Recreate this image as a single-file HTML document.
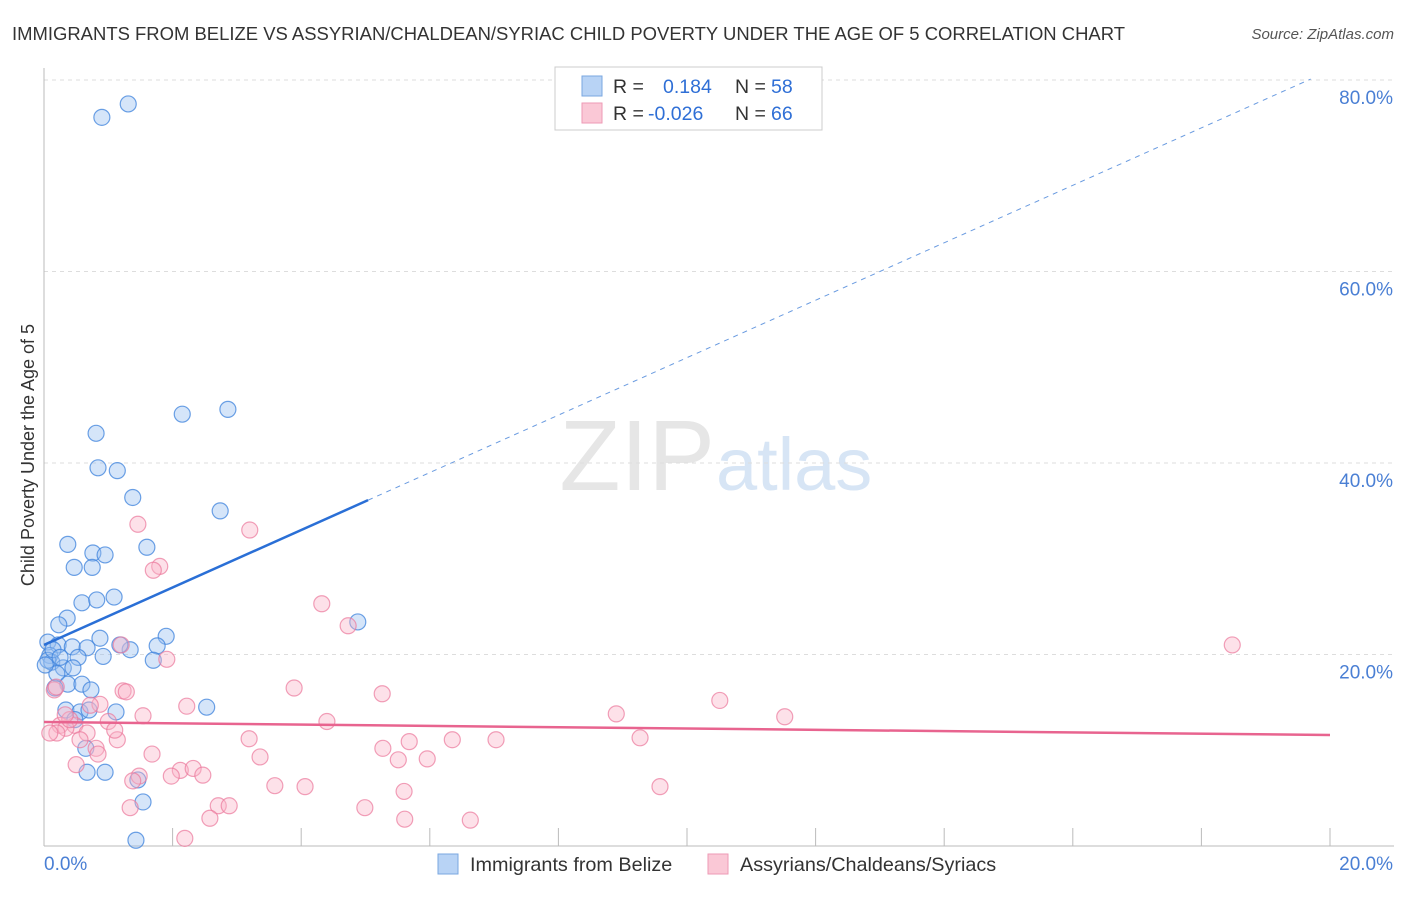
<!DOCTYPE html>
<html><head><meta charset="utf-8"><style>
body{margin:0;background:#fff;font-family:"Liberation Sans",sans-serif;}
svg text{font-family:"Liberation Sans",sans-serif;}
</style></head><body>
<svg id="chart" width="1406" height="892" viewBox="0 0 1406 892">
<text x="12" y="40" font-size="18.6" fill="#333" textLength="1113" lengthAdjust="spacingAndGlyphs">IMMIGRANTS FROM BELIZE VS ASSYRIAN/CHALDEAN/SYRIAC CHILD POVERTY UNDER THE AGE OF 5 CORRELATION CHART</text>
<text x="1394" y="39" font-size="15" fill="#555" font-style="italic" text-anchor="end">Source: ZipAtlas.com</text>
<text x="715" y="490" font-size="100" fill="#e6e6e6" text-anchor="end" font-family="Liberation Serif">ZIP</text>
<text x="716" y="490" font-size="74" fill="#d7e5f5">atlas</text>
<g id="grid"></g>
<g id="axes"></g>
<g id="pts"></g>
<g id="lines"></g>
<text x="34" y="455" font-size="18" fill="#333" text-anchor="middle" transform="rotate(-90 34 455)">Child Poverty Under the Age of 5</text>
<g>
<rect x="555" y="67" width="267" height="63" fill="#fff" stroke="#ccc"/>
<rect x="582" y="76" width="20" height="20" fill="#b8d3f5" stroke="#7aa7e0"/>
<rect x="582" y="103" width="20" height="20" fill="#fac8d6" stroke="#ee9ab5"/>
<text x="613" y="93" font-size="19.5" fill="#333">R =</text>
<text x="663" y="93" font-size="19.5" fill="#2f6fd6">0.184</text>
<text x="735" y="93" font-size="19.5" fill="#333">N =</text>
<text x="771" y="93" font-size="19.5" fill="#2f6fd6">58</text>
<text x="613" y="120" font-size="19.5" fill="#333">R =</text>
<text x="648" y="120" font-size="19.5" fill="#2f6fd6">-0.026</text>
<text x="735" y="120" font-size="19.5" fill="#333">N =</text>
<text x="771" y="120" font-size="19.5" fill="#2f6fd6">66</text>
</g>
<g>
<rect x="438" y="854" width="20" height="20" fill="#b8d3f5" stroke="#7aa7e0"/>
<text x="470" y="871" font-size="19.8" fill="#333">Immigrants from Belize</text>
<rect x="708" y="854" width="20" height="20" fill="#fac8d6" stroke="#ee9ab5"/>
<text x="740" y="871" font-size="19.8" fill="#333">Assyrians/Chaldeans/Syriacs</text>
</g>
</svg>
<script>
const blueX=[0.90,1.31,2.15,2.86,0.81,0.84,1.14,1.38,2.74,0.37,0.76,0.95,1.60,0.47,0.75,0.59,0.82,1.09,0.36,0.23,0.06,0.22,0.87,1.90,1.76,1.34,1.18,0.44,0.67,0.09,0.53,0.92,1.70,0.12,0.30,0.45,0.20,0.37,0.59,0.73,0.17,0.34,0.56,1.12,2.53,0.70,0.48,0.65,0.67,0.95,1.46,1.54,1.43,4.88,0.06,0.14,0.02,0.25];
const blueY=[76.1,77.5,45.1,45.6,43.1,39.5,39.2,36.4,35.0,31.5,30.6,30.4,31.2,29.1,29.1,25.4,25.7,26.0,23.8,23.1,21.3,21.0,21.7,21.9,20.9,20.5,21.0,20.8,20.7,19.9,19.7,19.8,19.4,19.2,18.6,18.6,18.0,16.9,16.9,16.3,16.5,14.2,14.0,14.0,14.5,14.2,13.2,10.2,7.7,7.7,6.9,4.6,0.6,23.4,19.4,20.5,18.9,19.7];
const pinkX=[1.46,3.20,1.80,1.70,4.32,4.73,1.20,1.91,0.16,1.23,1.28,3.89,5.26,18.48,2.22,0.87,1.54,1.00,4.40,8.90,10.51,11.52,0.25,0.48,0.34,0.67,0.20,0.56,1.14,3.19,5.27,5.68,6.35,7.03,9.27,0.81,1.68,3.36,5.51,5.96,0.50,0.84,2.12,2.32,2.47,1.98,1.48,1.38,3.59,4.06,9.58,5.60,2.71,2.88,1.34,4.99,2.58,5.61,6.63,2.19,0.19,0.09,0.40,1.10,0.33,0.72];
const pinkY=[33.6,33.0,29.2,28.8,25.3,23.0,21.0,19.5,16.3,16.2,16.1,16.5,15.9,21.0,14.6,14.8,13.6,13.0,13.0,13.8,15.2,13.5,12.6,12.6,12.3,11.8,11.8,11.1,11.1,11.2,10.2,10.9,11.1,11.1,11.3,10.2,9.6,9.3,9.0,9.1,8.5,9.6,7.9,8.1,7.4,7.3,7.3,6.8,6.3,6.2,6.2,5.7,4.2,4.2,4.0,4.0,2.9,2.8,2.7,0.8,16.6,11.8,13.2,12.1,13.7,14.7];
const yTicks=[20,40,60,80];
const yTickLabels=["20.0%","40.0%","60.0%","80.0%"];
const xTicks=[0,2,4,6,8,10,12,14,16,18,20];
const blueTrend=[21.0,3.0];
const pinkTrend=[12.95,-0.068];
const blueSolidEnd=5.04, blueDashEnd=19.7;

const NS="http://www.w3.org/2000/svg";
const X=v=>44+v*64.3, Y=v=>846-v*9.575;
function mk(tag,attrs,parent){const e=document.createElementNS(NS,tag);for(const k in attrs)e.setAttribute(k,attrs[k]);parent.appendChild(e);return e;}
const grid=document.getElementById('grid'),axes=document.getElementById('axes'),pts=document.getElementById('pts'),lines=document.getElementById('lines');
yTicks.forEach((t,i)=>{
 const l=mk('line',{x1:44,x2:1394,y1:Y(t),y2:Y(t),stroke:'#ddd','stroke-dasharray':'4,4'},grid);
 
 
 const tx=mk('text',{x:1393,y:Y(t)+24,'font-size':19,fill:'#4a7fd4','text-anchor':'end'},axes);
 tx.textContent=yTickLabels[i];
 
 
});
const ax=mk('line',{x1:44,x2:1394,y1:846,y2:846,stroke:'#bbb'},axes);


const ay=mk('line',{x1:44,x2:44,y1:68,y2:846,stroke:'#bbb'},axes);


xTicks.forEach(t=>{
 const l=mk('line',{x1:X(t),x2:X(t),y1:828,y2:846,stroke:'#bbb'},axes);
 
 
});
const xl0=mk('text',{x:44,y:870,'font-size':19,fill:'#4a7fd4'},axes);xl0.textContent=xTicks[0].toFixed(1)+'%';


const xl1=mk('text',{x:1393,y:870,'font-size':19,fill:'#4a7fd4','text-anchor':'end'},axes);xl1.textContent=xTicks[xTicks.length-1].toFixed(1)+'%';


blueX.forEach((v,i)=>{
 const c=mk('circle',{cx:X(v),cy:Y(blueY[i]),r:8,fill:'rgba(150,190,240,0.4)',stroke:'rgba(60,130,220,0.75)','stroke-width':1.2},pts);
 
 
});
pinkX.forEach((v,i)=>{
 const c=mk('circle',{cx:X(v),cy:Y(pinkY[i]),r:8,fill:'rgba(250,180,200,0.4)',stroke:'rgba(235,120,155,0.7)','stroke-width':1.2},pts);
 
 
});
const bt=x=>blueTrend[0]+blueTrend[1]*x, pt=x=>pinkTrend[0]+pinkTrend[1]*x;
const b1=mk('line',{x1:X(0),y1:Y(bt(0)),x2:X(blueSolidEnd),y2:Y(bt(blueSolidEnd)),stroke:'#2a6fd6','stroke-width':2.5},lines);


const b2=mk('line',{x1:X(blueSolidEnd),y1:Y(bt(blueSolidEnd)),x2:X(blueDashEnd),y2:Y(bt(blueDashEnd)),stroke:'#6a9be0','stroke-width':1,'stroke-dasharray':'5,5'},lines);


const p1=mk('line',{x1:X(0),y1:Y(pt(0)),x2:X(20),y2:Y(pt(20)),stroke:'#e8648f','stroke-width':2.5},lines);


</script>
</body></html>
